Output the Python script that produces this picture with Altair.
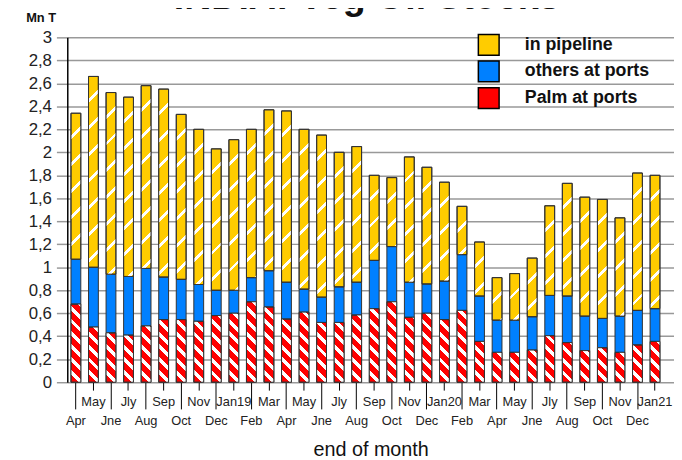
import altair as alt

# ---------------- data ----------------
months = ["Apr", "May", "Jne", "Jly", "Aug", "Sep", "Oct", "Nov", "Dec", "Jan19", "Feb", "Mar",
          "Apr", "May", "Jne", "Jly", "Aug", "Sep", "Oct", "Nov", "Dec", "Jan20", "Feb", "Mar",
          "Apr", "May", "Jne", "Jly", "Aug", "Sep", "Oct", "Nov", "Dec", "Jan21"]

palm = [0.68, 0.48, 0.43, 0.41, 0.49, 0.545, 0.545, 0.53, 0.58, 0.60, 0.70, 0.655,
        0.55, 0.61, 0.52, 0.52, 0.585, 0.64, 0.70, 0.565, 0.60, 0.545, 0.625, 0.355,
        0.26, 0.26, 0.28, 0.405, 0.345, 0.275, 0.30, 0.26, 0.325, 0.355]
others = [0.39, 0.52, 0.51, 0.51, 0.50, 0.37, 0.35, 0.32, 0.22, 0.20, 0.21, 0.315,
          0.32, 0.20, 0.22, 0.31, 0.285, 0.42, 0.48, 0.305, 0.255, 0.335, 0.485, 0.395,
          0.28, 0.28, 0.29, 0.35, 0.405, 0.30, 0.255, 0.315, 0.30, 0.285]
pipeline = [1.27, 1.66, 1.58, 1.56, 1.59, 1.635, 1.435, 1.35, 1.23, 1.31, 1.29, 1.40,
            1.49, 1.39, 1.41, 1.17, 1.18, 0.74, 0.60, 1.09, 1.015, 0.86, 0.42, 0.47,
            0.37, 0.405, 0.51, 0.78, 0.98, 1.035, 1.035, 0.855, 1.195, 1.16]

series = ["in pipeline", "others at ports", "Palm at ports"]
colors = ["#FFCC00", "#0080FF", "#FF0000"]
y_ticks = [0, 0.2, 0.4, 0.6, 0.8, 1, 1.2, 1.4, 1.6, 1.8, 2, 2.2, 2.4, 2.6, 2.8, 3]

# ---------------- layout constants ----------------
W, H = 614, 349
STEP = 17.76
PAD_IN = 0.44
PAD_OUT = 0.506
ALIGN = 0.2076
BW = STEP * (1 - PAD_IN)
PX_PER_UNIT = H / 3.0

NARROW = "Liberation Sans Narrow, Arial Narrow, Liberation Sans, Arial"
SANS = "Liberation Sans, Arial, Helvetica"

keys = [f"{i:02d} {m}" for i, m in enumerate(months)]

CLEAR = "rgba(255,255,255,0)"
WHITE = "#ffffff"


def stripes(value, period, white, down):
    """Diagonal white stripes as a hard-stop linear gradient for one bar segment."""
    w = BW
    h = max(value * PX_PER_UNIT, 1.0)
    r = h / w
    a = (1 + r) / (1 + r * r)
    p = period / (w + h)
    f = white / period
    stops = []
    t = 0.0
    while t < 1:
        t1 = min(t + (1 - f) * p, 1)
        t2 = min(t + p, 1)
        stops.append({"offset": round(t, 4), "color": CLEAR})
        stops.append({"offset": round(t1, 4), "color": CLEAR})
        if t1 < 1:
            stops.append({"offset": round(t1, 4), "color": WHITE})
            stops.append({"offset": round(t2, 4), "color": WHITE})
        t += p
    if down:
        return {"gradient": "linear", "x1": 0, "y1": 1, "x2": round(a, 5),
                "y2": round(1 - a * r, 5), "stops": stops}
    return {"gradient": "linear", "x1": 0, "y1": 0, "x2": round(a, 5),
            "y2": round(a * r, 5), "stops": stops}


rows, stripe_rows = [], []
for k, p_, o_, l_ in zip(keys, palm, others, pipeline):
    segs = [("Palm at ports", 0, p_), ("others at ports", p_, p_ + o_),
            ("in pipeline", p_ + o_, p_ + o_ + l_)]
    for s, y0, y1 in segs:
        rows.append({"key": k, "series": s, "y0": y0, "y1": y1})
    stripe_rows.append({"key": k, "y0": 0, "y1": p_,
                        "grad": stripes(p_, 13, 5, True)})
    stripe_rows.append({"key": k, "y0": p_ + o_, "y1": p_ + o_ + l_,
                        "grad": stripes(l_, 27, 4, False)})

x_scale = alt.Scale(domain=keys, paddingInner=PAD_IN, paddingOuter=PAD_OUT,
                    align=ALIGN, round=False)
y_scale = alt.Scale(domain=[0, 3], nice=False, zero=True)

axis_upper = alt.Axis(values=keys[1::2], labelExpr="slice(datum.value, 3)", orient="bottom",
                      tickSize=8, tickColor="#000", tickWidth=1, labelFont=NARROW,
                      labelFontSize=13, labelColor="#222", labelPadding=6, labelAngle=0,
                      domain=False, grid=False, title=None, labelOverlap=False)
axis_lower = alt.Axis(values=keys[0::2], labelExpr="slice(datum.value, 3)", orient="bottom",
                      tickSize=27, tickColor="#000", tickWidth=1, labelFont=NARROW,
                      labelFontSize=13, labelColor="#222", labelPadding=6, labelAngle=0,
                      domain=False, grid=False, labelOverlap=False,
                      title="end of month", titleFont=SANS, titleFontSize=20,
                      titleFontWeight="normal", titleColor="#111", titlePadding=12)

y_axis = alt.Axis(values=y_ticks,
                  labelExpr="replace(format(datum.value, '.1~f'), '.', ',')",
                  tickSize=11, tickColor="#999", tickWidth=1.5,
                  domainColor="#000", domainWidth=1.5,
                  gridColor="#999", gridWidth=1.5,
                  labelFont=SANS, labelFontSize=17, labelColor="#222", labelPadding=5,
                  title="Mn T", titleAngle=0, titleX=-27, titleY=-16, titleAlign="center",
                  titleBaseline="alphabetic", titleFont=SANS, titleFontSize=13,
                  titleFontWeight="bold", titleColor="#111")

legend = alt.Legend(orient="none", legendX=415, legendY=-4, direction="vertical", title=None,
                    symbolType="square", symbolSize=441, symbolStrokeColor="#000",
                    symbolStrokeWidth=1.5, labelFont=SANS, labelFontSize=18,
                    labelFontWeight="bold", labelColor="#111", labelOffset=25,
                    rowPadding=0, padding=0)

base = alt.Chart(alt.Data(values=rows)).mark_bar(stroke="#333", strokeWidth=1).encode(
    x=alt.X("key:N", scale=x_scale, axis=axis_upper),
    y=alt.Y("y0:Q", scale=y_scale, axis=y_axis),
    y2="y1:Q",
    color=alt.Color("series:N", scale=alt.Scale(domain=series, range=colors), legend=legend),
)

overlay = alt.Chart(alt.Data(values=stripe_rows)).mark_bar(stroke="#333", strokeWidth=1).encode(
    x=alt.X("key:N", scale=x_scale, axis=axis_lower),
    y=alt.Y("y0:Q", scale=y_scale, axis=y_axis),
    y2="y1:Q",
    fill=alt.Fill("grad:N", scale=None, legend=None),
)

chart = alt.layer(base, overlay).resolve_axis(x="independent").properties(
    width=W, height=H,
    autosize=alt.AutoSizeParams(type="none"),
    padding={"left": 60, "top": 27, "right": 0, "bottom": 76},
    background="white",
    title=alt.TitleParams(text="INDIA: Veg Oil Stocks", fontSize=38, fontWeight="bold",
                          font=SANS, anchor="middle", frame="group", baseline="alphabetic",
                          offset=-27, dy=8, dx=-4, color="#111"),
).configure_view(stroke=None)

chart.save("out.html", embed_options={"renderer": "svg", "actions": False})
